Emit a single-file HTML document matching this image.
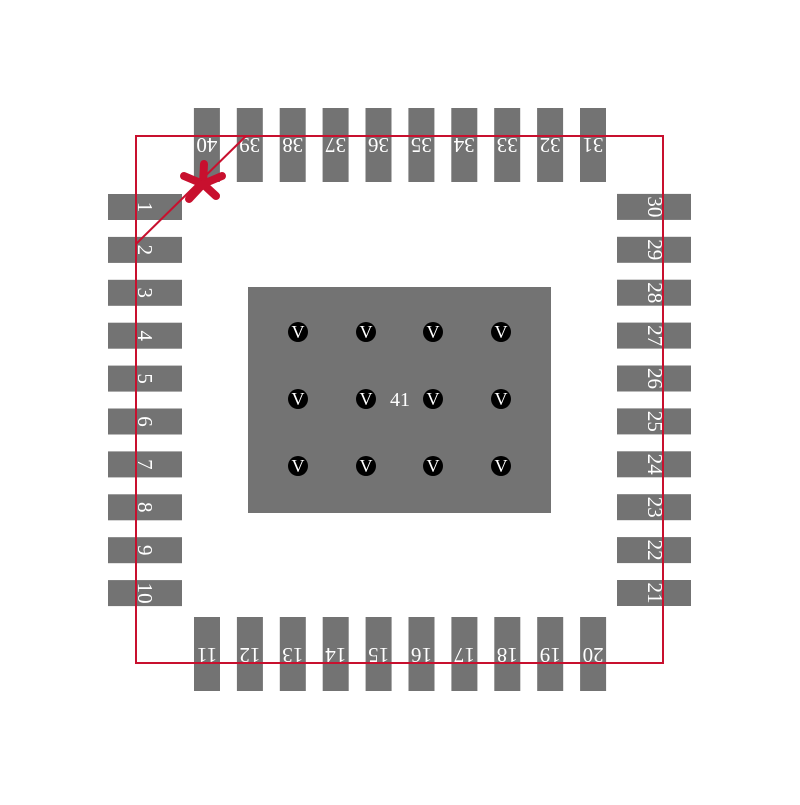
<!DOCTYPE html>
<html><head><style>body{margin:0;background:#fff}</style></head><body>
<svg width="800" height="800" xmlns="http://www.w3.org/2000/svg" font-family="Liberation Serif, serif" font-size="21" fill="#fff">
<g fill="#737373">
<rect x="248" y="287" width="303" height="226"/>
</g>
<g id="pads"></g>
<g fill="#000">
<circle cx="298" cy="332" r="10"/><circle cx="366" cy="332" r="10"/><circle cx="433" cy="332" r="10"/><circle cx="501" cy="332" r="10"/>
<circle cx="298" cy="399" r="10"/><circle cx="366" cy="399" r="10"/><circle cx="433" cy="399" r="10"/><circle cx="501" cy="399" r="10"/>
<circle cx="298" cy="466" r="10"/><circle cx="366" cy="466" r="10"/><circle cx="433" cy="466" r="10"/><circle cx="501" cy="466" r="10"/>
</g>
<g font-size="18" text-anchor="middle">
<text x="298" y="338" transform="scale(1,1)">V</text><text x="366" y="338">V</text><text x="433" y="338">V</text><text x="501" y="338">V</text>
<text x="298" y="405">V</text><text x="366" y="405">V</text><text x="433" y="405">V</text><text x="501" y="405">V</text>
<text x="298" y="472">V</text><text x="366" y="472">V</text><text x="433" y="472">V</text><text x="501" y="472">V</text>
</g>
<text x="400" y="406" text-anchor="middle" font-size="20">41</text>
<g id="lbl" text-anchor="middle"></g>
<rect x="136" y="136" width="527" height="527" fill="none" stroke="#c8102e" stroke-width="2"/>
<line x1="136" y1="244" x2="246" y2="136" stroke="#c8102e" stroke-width="2"/>
<g stroke="#c8102e" stroke-width="8" stroke-linecap="round">
<line x1="204" y1="164" x2="203" y2="184"/>
<line x1="184" y1="176" x2="203" y2="184"/>
<line x1="222" y1="176" x2="203" y2="184"/>
<line x1="189" y1="199" x2="203" y2="184"/>
<line x1="216" y1="196" x2="203" y2="184"/>
</g>
<script>
var P=document.getElementById('pads'),L=document.getElementById('lbl'),ns='http://www.w3.org/2000/svg';
function r(x,y,w,h){var e=document.createElementNS(ns,'rect');e.setAttribute('x',x);e.setAttribute('y',y);e.setAttribute('width',w);e.setAttribute('height',h);e.setAttribute('fill','#737373');P.appendChild(e);}
function t(s,x,y,a){var e=document.createElementNS(ns,'text');e.textContent=s;e.setAttribute('transform','translate('+x+','+y+') rotate('+a+')');e.setAttribute('y',7);L.appendChild(e);}
for(var i=0;i<10;i++){var c=207+i*42.9;
r(108,c-13,74,26);t(String(i+1),145,c,90);
r(c-13,617,26,74);t(String(i+11),c,655,180);
var cy=593-i*42.9;r(617,cy-13,74,26);t(String(i+21),655,cy,90);
var cx=593-i*42.9;r(cx-13,108,26,74);t(String(i+31),cx,145,180);}
</script>
</svg>
</body></html>
